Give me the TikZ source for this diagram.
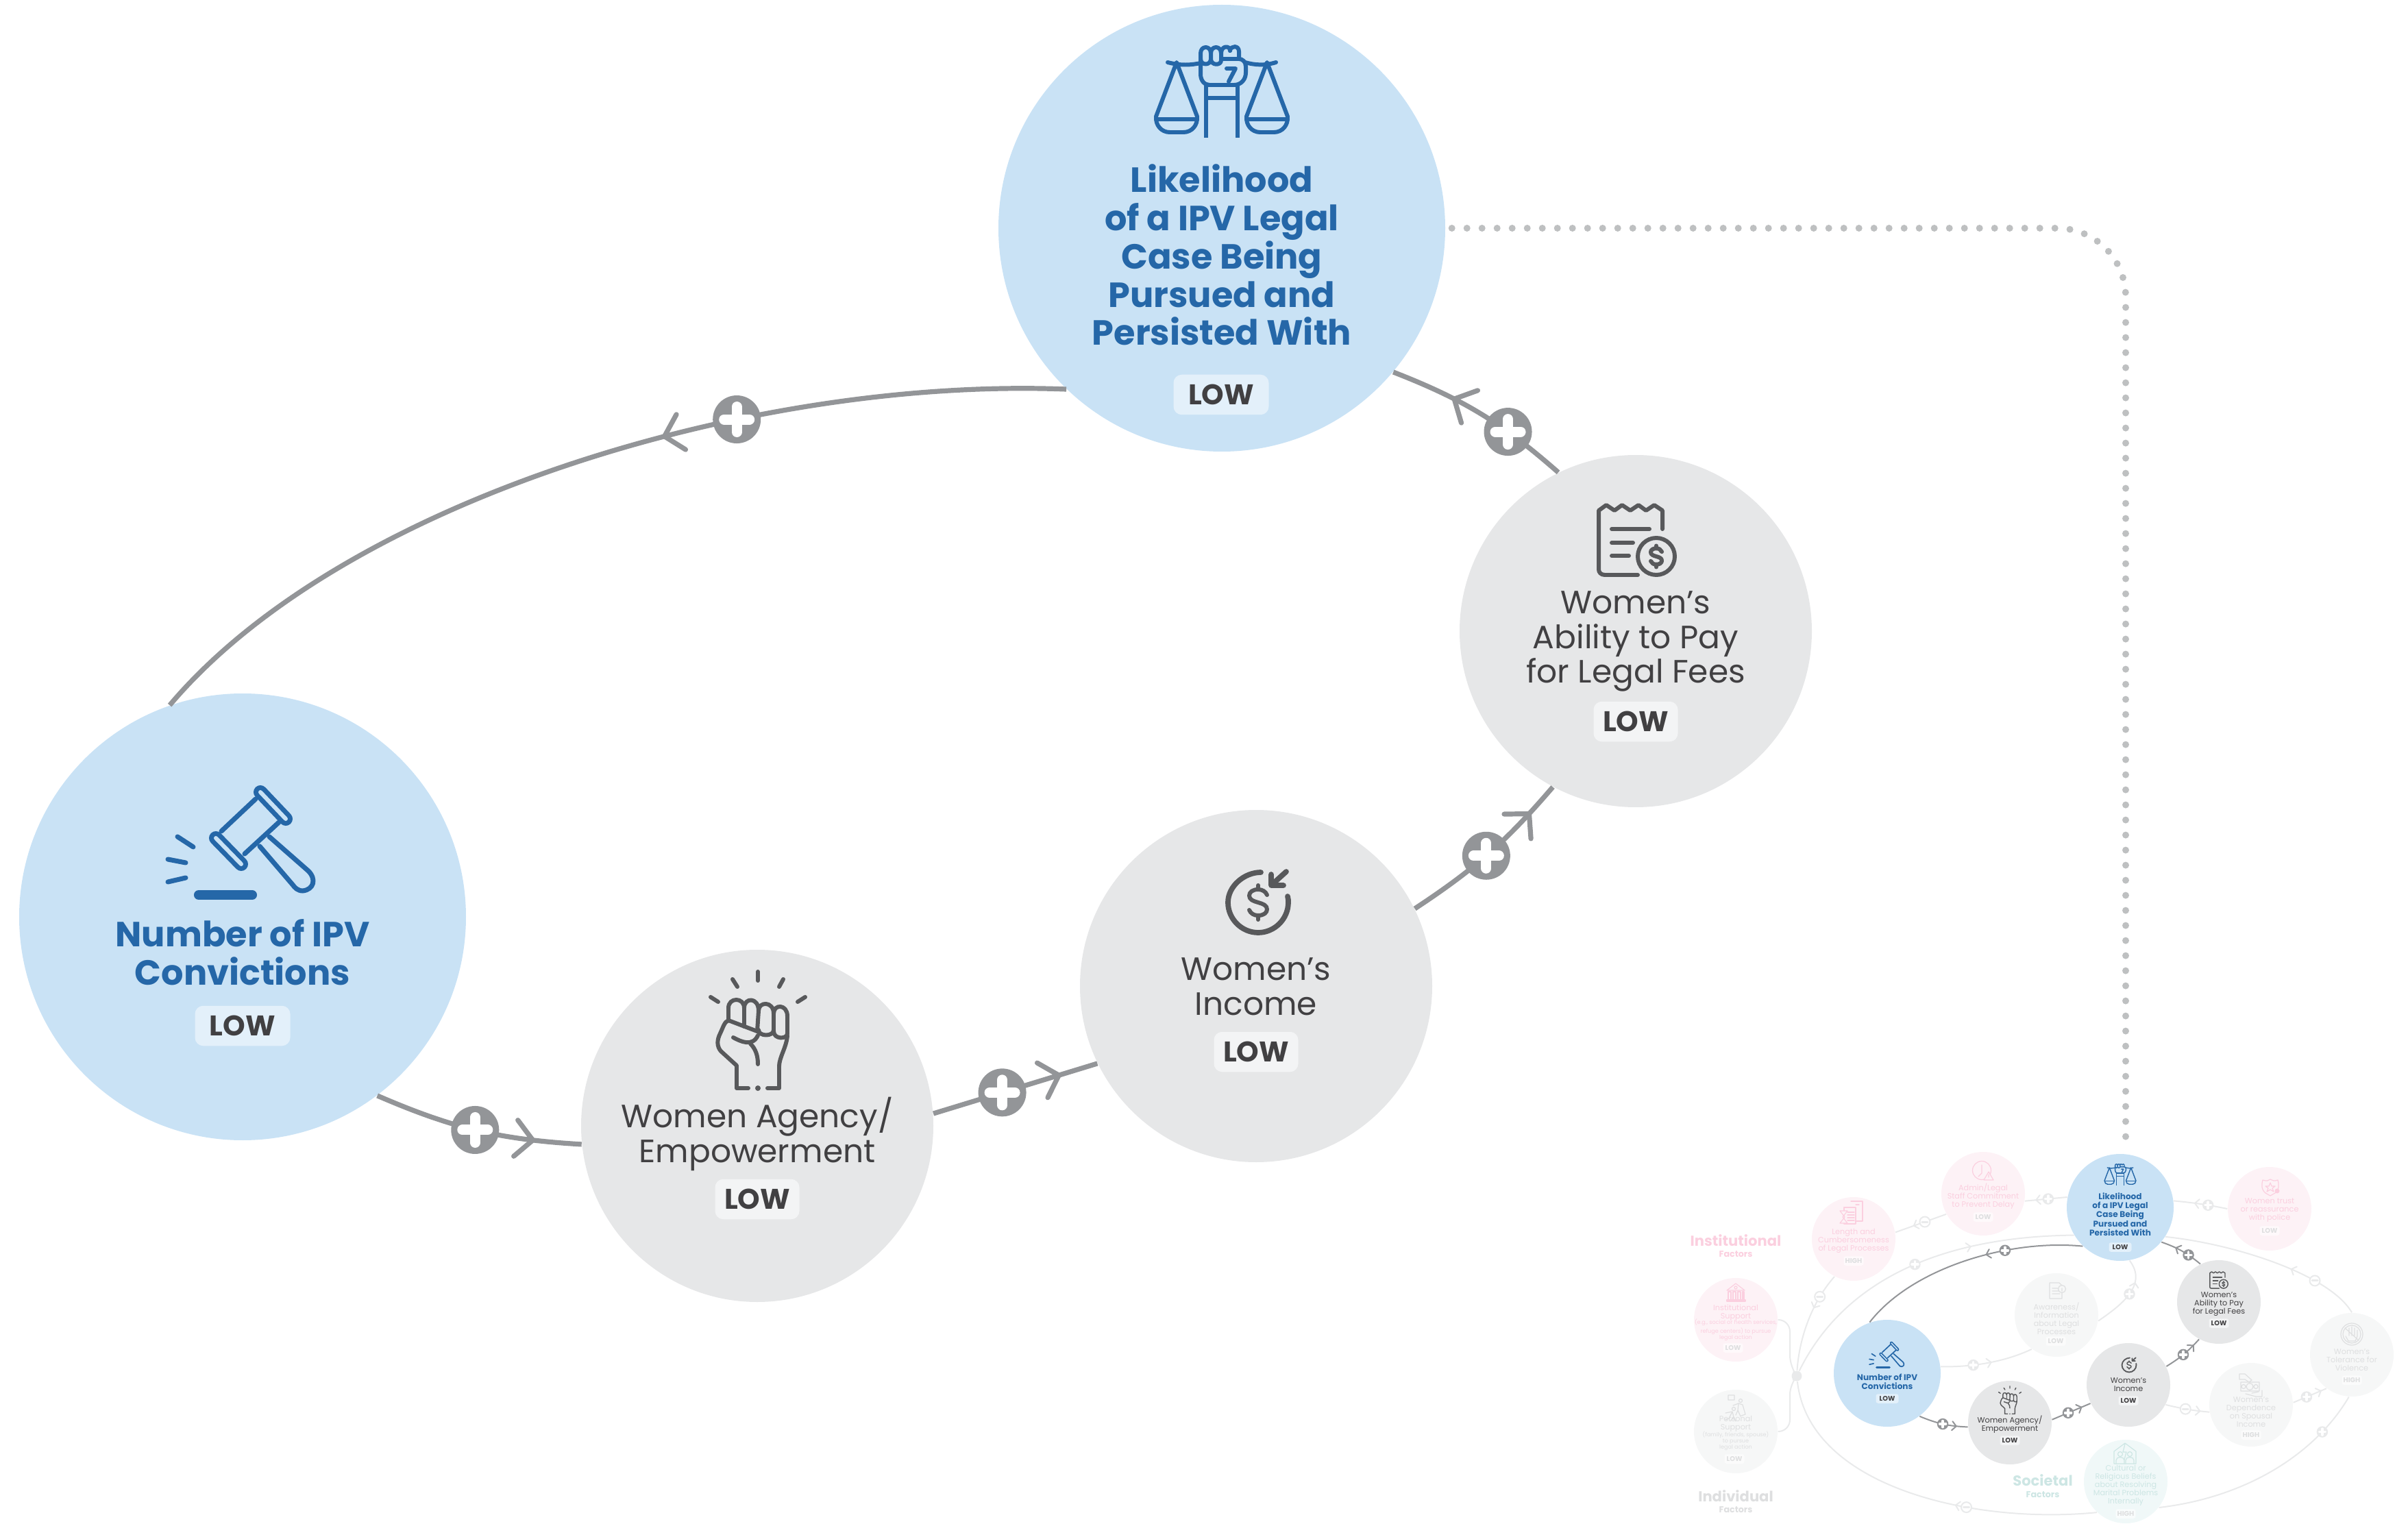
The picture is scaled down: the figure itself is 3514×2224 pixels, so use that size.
\documentclass[tikz,border=0pt]{standalone}
\usepackage{fontspec}
\setmainfont{Poppins}
\usetikzlibrary{arrows.meta,decorations.markings}

\definecolor{circleblue}{HTML}{C9E2F5}
\definecolor{textblue}{HTML}{2567A8}
\definecolor{circlegray}{HTML}{E6E7E8}
\definecolor{textgray}{HTML}{414042}
\definecolor{icongray}{HTML}{58595B}
\definecolor{linkgray}{HTML}{939598}
\definecolor{badgeblue}{HTML}{E3F0FA}
\definecolor{badgegray}{HTML}{F3F4F5}
\definecolor{faintlink}{HTML}{E9EAEB}
\definecolor{faintgray}{HTML}{F6F7F7}
\definecolor{faintgraytext}{HTML}{DEDFE0}
\definecolor{faintpink}{HTML}{FDF2F6}
\definecolor{pinktext}{HTML}{FBCFDF}
\definecolor{fainttealfill}{HTML}{F0F8F8}
\definecolor{tealtext}{HTML}{CDE6E4}

\def\iw{1}
\newcommand{\dollarglyph}{
  \draw[iconline] (13,-11) .. controls (11,-16) and (6,-19) .. (0,-19) .. controls (-8,-19) and (-13,-15) .. (-13,-10)
    .. controls (-13,-4) and (-7,-2) .. (0,0) .. controls (7,2) and (13,4) .. (13,10)
    .. controls (13,15) and (8,19) .. (0,19) .. controls (-6,19) and (-11,16) .. (-13,11);
  \draw[iconline] (0,-25) -- (0,-19) (0,19) -- (0,25);
}
\tikzset{
  iconsize/.code={\def\iw{#1}},
  miniicon/.style={scale=.238,iconsize=.238},
  iconline/.style={line width=\iw*1.7pt,line cap=round,line join=round},
  % circles
  bigblue/.style={circle,fill=circleblue,minimum size=6.52cm,inner sep=0},
  biggray/.style={circle,fill=circlegray,minimum size=5.14cm,inner sep=0},
  miniblue/.style={circle,fill=circleblue,minimum size=1.56cm,inner sep=0},
  minigray/.style={circle,fill=circlegray,minimum size=1.22cm,inner sep=0},
  fadegray/.style={circle,fill=faintgray,minimum size=1.22cm,inner sep=0},
  fadepink/.style={circle,fill=faintpink,minimum size=1.22cm,inner sep=0},
  fadeteal/.style={circle,fill=fainttealfill,minimum size=1.22cm,inner sep=0},
  % texts
  bluetitle/.style={align=center,text=textblue,font=\fontsize{14.5}{15.9}\selectfont\bfseries,inner sep=0},
  graytitle/.style={align=center,text=textgray,font=\fontsize{13.4}{14.4}\selectfont,inner sep=0},
  miniblueT/.style={align=center,text=textblue,font=\fontsize{3.45}{3.8}\selectfont\bfseries,inner sep=0},
  minigrayT/.style={align=center,text=textgray,font=\fontsize{3.2}{3.4}\selectfont,inner sep=0},
  fadeT/.style={align=center,font=\fontsize{3.2}{3.4}\selectfont,inner sep=0},
  smallT/.style={align=center,font=\fontsize{2.3}{2.5}\selectfont,inner sep=0},
  headT/.style={font=\fontsize{6}{7}\selectfont\bfseries,inner sep=0},
  subT/.style={font=\fontsize{3.6}{4}\selectfont\bfseries,inner sep=0},
  % level badges
  lowbig/.style={rounded corners=.12cm,minimum width=#1,minimum height=.585cm,inner sep=0,text=textgray,font=\fontsize{11.8}{12}\selectfont\bfseries},
  lowmini/.style={rounded corners=.03cm,minimum width=#1,minimum height=.135cm,inner sep=0,text=textgray,font=\fontsize{2.8}{3}\selectfont\bfseries},
  lowfade/.style={rounded corners=.03cm,minimum width=#1,minimum height=.135cm,inner sep=0,text=faintgraytext,fill=white,fill opacity=.6,text opacity=1,font=\fontsize{2.8}{3}\selectfont\bfseries},
  % connectors
  linkbig/.style={draw=linkgray,line width=.072cm},
  linkmini/.style={draw=linkgray,line width=.02cm},
  linkfade/.style={draw=faintlink,line width=.02cm},
  chevbig/.style={postaction={decorate,decoration={markings,mark=at position #1 with {\arrow[line cap=round]{Straight Barb[length=.25cm,width=.53cm,round]}}}}},
  chevmini/.style={postaction={decorate,decoration={markings,mark=at position #1 with {\arrow[line cap=round]{Straight Barb[length=.06cm,width=.13cm,round]}}}}},
  % signs
  plusbig/.style={circle,fill=linkgray,minimum size=.7cm,inner sep=0,path picture={
    \draw[white,line width=.15cm,line cap=round] (path picture bounding box.center) +(-.185cm,0) -- +(.185cm,0) +(0,-.185cm) -- +(0,.185cm);}},
  plusmini/.style={circle,fill=#1,minimum size=.165cm,inner sep=0,path picture={
    \draw[white,line width=.035cm,line cap=round] (path picture bounding box.center) +(-.045cm,0) -- +(.045cm,0) +(0,-.045cm) -- +(0,.045cm);}},
  minusmini/.style={circle,fill=white,draw=faintlink,line width=.02cm,minimum size=.15cm,inner sep=0,path picture={
    \draw[faintlink,line width=.03cm,line cap=round] (path picture bounding box.center) +(-.04cm,0) -- +(.04cm,0);}},
  fadeline/.style={line width=.012cm,line cap=round,line join=round},
  % icons
  gavelicon/.pic={
    \draw[line width=\iw*2pt,double=circleblue,double distance=\iw*1.7pt,line cap=round] (30,-67) -- (67,-28);
    \draw[line width=\iw*2pt,double=circleblue,double distance=\iw*1.7pt,line cap=round] (-35,0) -- (2,38);
    \draw[iconline,line width=\iw*2pt] (-27,-10) -- (23,-57) (7,23) -- (57,-23);
    \draw[iconline,line width=\iw*2pt] (43,-2) -- (100,48) .. controls (112,60) and (108,75) .. (92,77) .. controls (84,77) and (80,72) .. (77,68) -- (29,12);
    \draw[iconline,line width=\iw*2pt] (-91,-2) -- (-68,13) (-105,31) -- (-79,36) (-105,64) -- (-79,58);
    \draw[iconline,line width=\iw*4pt] (-60,83) -- (18,83);
  },
  scalesicon/.pic={
    \foreach \sx in {-1,1} {
      \draw[iconline] (\sx*66,-42) -- (\sx*96,37) .. controls (\sx*97,50) and (\sx*88,60) .. (\sx*76,60) -- (\sx*56,60)
        .. controls (\sx*44,60) and (\sx*35,50) .. (\sx*36,37) -- cycle;
      \draw[iconline] (\sx*96,41) -- (\sx*36,41);
      \draw[iconline,line cap=butt] (\sx*23,-9) -- (\sx*23,68);
    }
    \draw[iconline] (-79,-42) .. controls (-60,-37) and (-45,-38) .. (-31,-41);
    \draw[iconline] (34,-42) .. controls (48,-38) and (63,-37) .. (79,-42);
    \draw[iconline] (-23,10) -- (23,10) (-23,-9) -- (23,-9);
    \draw[iconline] (-31,-55) -- (-31,-25) .. controls (-31,-15) and (-25,-9) .. (-18,-9) -- (18,-9) .. controls (28,-9) and (35,-17) .. (35,-27)
      -- (35,-36) .. controls (35,-43) and (30,-47) .. (25,-47) -- (25,-58) .. controls (25,-67) and (13,-67) .. (12,-59);
    \draw[iconline] (-31,-55) .. controls (-31,-67) and (-16,-67) .. (-16,-55) .. controls (-16,-67) and (-1,-67) .. (-1,-55) .. controls (-1,-67) and (12,-67) .. (12,-59);
    \draw[iconline] (-31,-47) .. controls (-31,-37) and (-16,-37) .. (-16,-47) -- (-16,-55) (-16,-47) .. controls (-16,-37) and (-1,-37) .. (-1,-45) -- (-1,-55) (-1,-47) -- (25,-47);
    \draw[iconline] (7,-33) -- (20,-33) -- (10,-14);
  },
  fisticon/.pic={
    \draw[iconline] (0,-85) -- (0,-72) (-37,-74) -- (-30,-63) (37,-74) -- (31,-63) (-69,-48) -- (-58,-41) (69,-48) -- (58,-41);
    \draw[iconline] (-43,-14) -- (-43,-32) .. controls (-43,-48) and (-20,-48) .. (-20,-32) .. controls (-20,-48) and (1,-48) .. (1,-28) -- (-1,2);
    \draw[iconline] (-20,-32) -- (-20,-5);
    \draw[iconline] (1,-28) .. controls (1,-42) and (23,-42) .. (23,-24) -- (23,0) .. controls (23,10) and (1,10) .. (1,0);
    \draw[iconline] (23,-24) .. controls (23,-38) and (43,-38) .. (43,-20) -- (43,5) .. controls (43,14) and (23,14) .. (23,2);
    \draw[iconline] (-43,-14) -- (-1,2);
    \draw[iconline] (-43,-14) .. controls (-49,-12) and (-51,-3) .. (-55,5) .. controls (-60,15) and (-60,24) .. (-54,31) -- (-31,52) -- (-31,85) -- (-14,85);
    \draw[iconline] (14,85) -- (31,85) -- (31,53) .. controls (31,40) and (42,25) .. (43,8);
    \draw[iconline] (-36,11) .. controls (-25,17) and (-8,25) .. (0,8);
    \draw[iconline] (-11,20) .. controls (-3,28) and (0,38) .. (0,50);
    \fill (0,85) circle (4);
  },
  receipticon/.pic={
    \draw[iconline] (10,51) -- (-38,51) .. controls (-44,51) and (-47,47) .. (-47,43) -- (-47,-43) -- (-36,-51) -- (-24,-43) -- (-13,-51) -- (-1,-43) -- (11,-51) -- (22,-43) -- (34,-51) -- (46,-43) -- (46,-16);
    \draw[iconline] (-28,-16) -- (27,-16) (-28,4) -- (3,4) (-28,23) -- (-3,23);
    \draw[iconline] (37,24) circle (27);
    \begin{scope}[shift={(37,24)},scale=.62]
      \dollarglyph
    \end{scope}
  },
  incomeicon/.pic={
    \draw[iconline,line width=\iw*2.2pt] (4,-44) .. controls (-20,-44) and (-44,-24) .. (-44,0) .. controls (-44,24) and (-24,44) .. (0,44) .. controls (24,44) and (44,24) .. (44,0) .. controls (44,-3) and (44,-6) .. (43,-9);
    \draw[iconline,line width=\iw*2.2pt] (19,-41) -- (19,-25) -- (37,-25) (41,-45) -- (20,-26);
    \dollarglyph
  }
}

\begin{document}
\begin{tikzpicture}[x=0.1mm,y=-0.1mm]

\path [use as bounding box] (0,0) rectangle (3514,2224);

% BIG CIRCLES
\node [bigblue] (likelihood) at (1783,333) {};
\node [bigblue] (number) at (354,1338) {};
\node [biggray] (ability) at (2387,921) {};
\node [biggray] (income) at (1833,1439) {};
\node [biggray] (agency) at (1105,1643) {};

% BIG LABELS
\node [bluetitle] (likelihoodtext) at (1783,372) {Likelihood\\of a IPV Legal\\Case Being\\Pursued and\\Persisted With};
\node [bluetitle] (numbertext) at (354,1390) {Number of IPV\\Convictions};
\node [graytitle] (abilitytext) at (2387,936) {Women’s\\Ability to Pay\\for Legal Fees};
\node [graytitle] (incometext) at (1833,1440) {Women’s\\Income};
\node [graytitle] (agencytext) at (1105,1655) {Women Agency/\\Empowerment};
\node [lowbig=1.39cm,fill=badgeblue] (likelihoodlow) at (1782,576) {LOW};
\node [lowbig=1.39cm,fill=badgeblue] (numberlow) at (354,1497) {LOW};
\node [lowbig=1.23cm,fill=badgegray] (abilitylow) at (2387,1053) {LOW};
\node [lowbig=1.23cm,fill=badgegray] (incomelow) at (1833,1535) {LOW};
\node [lowbig=1.23cm,fill=badgegray] (agencylow) at (1105,1750) {LOW};

% BIG ICONS
\pic [color=textblue] at (1783,133) {scalesicon};
\pic [color=textblue] at (350,1223) {gavelicon};
\pic [color=icongray] at (1106,1503) {fisticon};
\pic [color=icongray] at (2380,788) {receipticon};
\pic [color=icongray] at (1836,1317) {incomeicon};

% BIG LINKS
\draw [linkbig,chevbig=.418] (likelihood.226) .. controls (1100,550) and (500,730) .. (number.109) node[plusbig,pos=.33] (signlikelihood) {};
\draw [linkbig,chevbig=.78] (number.-53) to[bend right=10] node[plusbig,pos=.49] (signnumber) {} (agency.186);
\draw [linkbig,chevbig=.78] (agency.4) -- node[plusbig,pos=.42] (signagency) {} (income.206);
\draw [linkbig,chevbig=.82] (income.26) to[bend right=8] node[plusbig,pos=.48] (signincome) {} (ability.242);
\draw [linkbig,chevbig=.67] (ability.116) to[bend right=10] node[plusbig,pos=.32] (signability) {} (likelihood.-40);

% MINI CIRCLES
\node [miniblue] (mlikelihood) at (3094,1762) {};
\node [miniblue] (mnumber) at (2754,2004) {};
\node [minigray] (mability) at (3238,1900) {};
\node [minigray] (mincome) at (3106,2021) {};
\node [minigray] (magency) at (2933,2076) {};
\node [fadepink] (msupport) at (2533,1926) {};
\node [fadegray] (mpersonal) at (2533,2089) {};
\node [fadepink] (mlength) at (2705,1808) {};
\node [fadepink] (madmin) at (2894,1742) {};
\node [fadegray] (maware) at (3001,1919) {};
\node [fadepink] (mtrust) at (3312,1764) {};
\node [fadegray] (mtolerance) at (3432,1977) {};
\node [fadegray] (mdepend) at (3285,2050) {};
\node [fadeteal] (mcultural) at (3102,2162) {};
\node [circle,fill=faintlink,minimum size=.15cm,inner sep=0] (hub) at (2622,2008) {};

% MINI LINKS
\draw [linkfade,chevmini=.68] (hub) .. controls (2680,1890) and (2800,1805) .. (mlikelihood.211) node[plusmini=faintlink,pos=.58] (signhub) {};
\draw [linkfade,chevmini=.4] (mcultural.227) .. controls (2880,2225) and (2640,2170) .. (hub) node[minusmini,pos=.335] (signcultural) {};
\draw [linkfade,chevmini=.82] (mcultural.-38) .. controls (3280,2185) and (3380,2120) .. (mtolerance.266) node[plusmini=faintlink,pos=.78] (signtolb) {};
\draw [linkfade,chevmini=.37] (mtolerance.90) .. controls (3400,1860) and (3260,1815) .. (mlikelihood.-33) node[minusmini,pos=.3] (signtol) {};
\draw [linkfade,chevmini=.55] (mnumber.7) .. controls (2870,1995) and (2920,1990) .. (maware.234) node[plusmini=faintlink,pos=.38] (signaware) {};
\draw [linkfade,chevmini=.7] (maware.-8) .. controls (3095,1905) and (3135,1875) .. (mlikelihood.-80) node[plusmini=faintlink,pos=.5] (signawareb) {};
\draw [linkfade,chevmini=.8] (mincome.-28) to[bend right=4] node[minusmini,pos=.45] (signincomeb) {} (mdepend.190);
\draw [linkfade,chevmini=.85] (mdepend.3) -- node[plusmini=faintlink,pos=.4] (signdepend) {} (mtolerance.233);
\draw [linkfade,chevmini=.62] (mtrust.180) to[bend right=3] node[plusmini=faintlink,pos=.35] (signtrust) {} (mlikelihood.7);
\draw [linkfade,chevmini=.75] (mlikelihood.169) -- node[plusmini=faintlink,pos=.45] (signadmin) {} (madmin.-10);
\draw [linkfade,chevmini=.65] (madmin.209) -- node[minusmini,pos=.42] (signlength) {} (mlength.9.5);
\draw [linkfade,chevmini=.37] (mlength.243) .. controls (2640,1905) and (2625,1960) .. (hub) node[minusmini,pos=.22] (signhubb) {};
\draw [linkfade,rounded corners=.17cm] (msupport.east) -| (2612,1995) -- (hub);
\draw [linkfade,rounded corners=.17cm] (mpersonal.east) -| (2612,2018) -- (hub);
\draw [linkmini,chevmini=.418] (mlikelihood.226) .. controls (2932,1808) and (2790,1850) .. (mnumber.109) node[plusmini=linkgray,pos=.33] (msignlikelihood) {};
\draw [linkmini,chevmini=.78] (mnumber.-53) to[bend right=10] node[plusmini=linkgray,pos=.49] (msignnumber) {} (magency.186);
\draw [linkmini,chevmini=.78] (magency.4) -- node[plusmini=linkgray,pos=.42] (msignagency) {} (mincome.206);
\draw [linkmini,chevmini=.82] (mincome.26) to[bend right=8] node[plusmini=linkgray,pos=.48] (msignincome) {} (mability.242);
\draw [linkmini,chevmini=.67] (mability.116) to[bend right=10] node[plusmini=linkgray,pos=.32] (msignability) {} (mlikelihood.-40);

% DOTTED LINK
\draw [linkgray!60,line width=.1cm,line cap=round,dash pattern=on 0pt off .22cm,rounded corners=1cm,shorten <=.09cm,shorten >=.11cm] (likelihood.east) -| ([xshift=.08cm]mlikelihood.north);

% MINI ICONS
\pic [miniicon,color=textblue] at (3094,1714) {scalesicon};
\pic [miniicon,color=textblue] at (2753,1976) {gavelicon};
\pic [miniicon,color=icongray] at (2933,2043) {fisticon};
\pic [miniicon,color=icongray] at (3236,1868) {receipticon};
\pic [miniicon,color=icongray] at (3107,1992) {incomeicon};

% bank
\draw [fadeline,pinktext] (2520,1883) -- (2533,1873) -- (2546,1883) -- cycle (2533,1879) circle (2);
\draw [fadeline,pinktext] (2522,1885) rectangle (2526,1897) (2529,1885) rectangle (2533,1897) (2536,1885) rectangle (2540,1897) (2543,1885) rectangle (2545,1897) (2520,1897) rectangle (2547,1899);
% documents
\draw [fadeline,pinktext] (2701,1753) -- (2718,1753) -- (2718,1782) -- (2709,1782) (2713,1758) -- (2708,1758);
\draw [fadeline,pinktext] (2691,1762) -- (2708,1762) -- (2708,1786) -- (2691,1786) -- cycle (2696,1769) -- (2706,1769) (2696,1773) -- (2706,1773) (2696,1777) -- (2706,1777) (2696,1781) -- (2706,1781);
\draw [fadeline,pinktext,fill=faintpink] (2685,1767) -- (2696,1767) -- (2689,1776) -- (2696,1785) -- (2685,1785) -- (2692,1776) -- cycle;
% clock
\draw [fadeline,pinktext] (2892,1708) circle (13.5) (2892,1700) -- (2892,1712) -- (2887,1717);
\draw [fadeline,pinktext,fill=faintpink] (2902,1710) -- (2895,1722) -- (2909,1722) -- cycle (2902,1714) -- (2902,1718);
% shield
\draw [fadeline,pinktext] (3302,1722) .. controls (3308,1724) and (3310,1723) .. (3313,1721) .. controls (3316,1723) and (3319,1724) .. (3324,1722) .. controls (3326,1730) and (3326,1736) .. (3320,1741) -- (3313,1745) -- (3306,1741) .. controls (3300,1736) and (3300,1730) .. (3302,1722) -- cycle;
\draw [fadeline,pinktext] (3313,1726) -- (3315,1731) -- (3320,1731) -- (3316,1734) -- (3318,1739) -- (3313,1736) -- (3308,1739) -- (3310,1734) -- (3306,1731) -- (3311,1731) -- cycle;
\fill [pinktext] (3323,1738) circle (3.5);
% awareness
\draw [fadeline,faintgraytext] (2991,1872) -- (3005,1872) -- (3009,1876) -- (3009,1895) -- (2991,1895) -- cycle (2995,1880) -- (3003,1880) (2995,1884) -- (3006,1884) (2995,1888) -- (3006,1888);
\draw [fadeline,faintgraytext,fill=faintgray] (3009,1881) circle (5.5) (3009,1880) -- (3009,1884);
% hand in a ring
\draw [fadeline,faintgraytext] (3432,1947) circle (16) (3432,1947) circle (13);
\draw [fadeline,faintgraytext] (3423,1950) -- (3427,1957) -- (3437,1957) -- (3440,1950) -- (3440,1941) (3436,1949) -- (3436,1938) (3432,1949) -- (3432,1936) (3428,1949) -- (3428,1938) (3422,1938) -- (3442,1956);
% cash
\draw [fadeline,faintgraytext] (3268,2005) -- (3276,2005) -- (3286,2014) -- (3282,2017) -- (3276,2013) -- (3268,2013) -- cycle;
\draw [fadeline,faintgraytext] (3270,2017) rectangle (3297,2030) (3283,2023.5) circle (5) (3274,2023.5) circle (3) (3292,2023.5) circle (3);
\draw [fadeline,faintgraytext] (3277,2034) -- (3292,2038) -- (3301,2038) -- (3301,2029) (3286,2033) -- (3296,2031);
% house
\draw [fadeline,tealtext] (3085,2136) -- (3085,2118) -- (3101,2106) -- (3117,2118) -- (3117,2136) -- cycle (3101,2107) -- (3098,2119) -- (3103,2119) -- (3100,2130);
\draw [fadeline,tealtext] (3094,2122) circle (3.5) (3108,2122) circle (3.5) (3088,2136) -- (3088,2131) .. controls (3088,2125) and (3100,2125) .. (3100,2131) -- (3100,2136) (3102,2136) -- (3102,2131) .. controls (3102,2125) and (3114,2125) .. (3114,2131) -- (3114,2136);
% people
\draw [fadeline,faintgraytext] (2522,2036) rectangle (2531,2043) (2530,2056) circle (2.5) (2540,2044) circle (2.5);
\draw [fadeline,faintgraytext] (2518,2062) -- (2528,2060) -- (2530,2068) -- (2525,2074) (2528,2060) -- (2523,2070) -- (2518,2072) (2530,2068) -- (2533,2074) (2529,2051) -- (2537,2048) -- (2543,2050) -- (2547,2064) -- (2541,2066) (2537,2048) -- (2536,2058) -- (2540,2067) (2536,2058) -- (2533,2065);

% MINI LABELS
\node [miniblueT] (mlikelihoodtext) at (3094,1772) {Likelihood\\of a IPV Legal\\Case Being\\Pursued and\\Persisted With};
\node [miniblueT] (mnumbertext) at (2754,2016) {Number of IPV\\Convictions};
\node [minigrayT] (mabilitytext) at (3238,1903) {Women’s\\Ability to Pay\\for Legal Fees};
\node [minigrayT] (mincometext) at (3106,2021) {Women’s\\Income};
\node [minigrayT] (magencytext) at (2933,2079) {Women Agency/\\Empowerment};
\node [fadeT,text=pinktext] (msupporttext) at (2533,1916) {Institutional\\Support};
\node [smallT,text=pinktext] (msupportsmall) at (2533,1941) {(e.g., social or health services,\\refuge centers) to pursue\\legal action};
\node [fadeT,text=faintgraytext] (mpersonaltext) at (2533,2078) {Personal\\Support};
\node [smallT,text=faintgraytext] (mpersonalsmall) at (2533,2103) {(family, friends, spouse)\\to pursue\\legal action};
\node [fadeT,text=pinktext] (mlengthtext) at (2705,1811) {Length and\\Cumbersomeness\\of Legal Processes};
\node [fadeT,text=pinktext] (madmintext) at (2894,1746) {Admin/Legal\\Staff Commitment\\to Prevent Delay};
\node [fadeT,text=faintgraytext] (mawaretext) at (3001,1924) {Awareness/\\Information\\about Legal\\Processes};
\node [fadeT,text=pinktext] (mtrusttext) at (3312,1766) {Women trust\\or reassurance\\with police};
\node [fadeT,text=faintgraytext] (mtolerancetext) at (3432,1985) {Women’s\\Tolerance for\\Violence};
\node [fadeT,text=faintgraytext] (mdependtext) at (3285,2061) {Women’s\\Dependence\\on Spousal\\Income};
\node [fadeT,text=tealtext] (mculturaltext) at (3102,2168) {Cultural or\\Religious Beliefs\\about Resolving\\Marital Problems\\Internally};
\node [lowmini=.33cm,fill=badgeblue] (mlikelihoodlow) at (3094,1820) {LOW};
\node [lowmini=.33cm,fill=badgeblue] (mnumberlow) at (2754,2041) {LOW};
\node [lowmini=.29cm,fill=badgegray] (mabilitylow) at (3238,1931) {LOW};
\node [lowmini=.29cm,fill=badgegray] (mincomelow) at (3106,2044) {LOW};
\node [lowmini=.29cm,fill=badgegray] (magencylow) at (2933,2102) {LOW};
\node [lowfade=.29cm] (msupportlow) at (2529,1967) {LOW};
\node [lowfade=.29cm] (mpersonallow) at (2531,2129) {LOW};
\node [lowfade=.29cm] (mlengthlow) at (2705,1840) {HIGH};
\node [lowfade=.29cm] (madminlow) at (2894,1776) {LOW};
\node [lowfade=.29cm] (mawarelow) at (3000,1957) {LOW};
\node [lowfade=.29cm] (mtrustlow) at (3312,1796) {LOW};
\node [lowfade=.29cm] (mtolerancelow) at (3432,2014) {HIGH};
\node [lowfade=.29cm] (mdependlow) at (3285,2094) {HIGH};
\node [lowfade=.29cm] (mculturallow) at (3102,2209) {HIGH};

% FACTOR HEADINGS
\node [headT,text=pinktext] (headinst) at (2533,1810) {Institutional};
\node [subT,text=pinktext] (subinst) at (2533,1830) {Factors};
\node [headT,text=faintgraytext] (headindiv) at (2533,2183) {Individual};
\node [subT,text=faintgraytext] (subindiv) at (2533,2203) {Factors};
\node [headT,text=tealtext] (headsoc) at (2981,2160) {Societal};
\node [subT,text=tealtext] (subsoc) at (2981,2181) {Factors};

\end{tikzpicture}
\end{document}
